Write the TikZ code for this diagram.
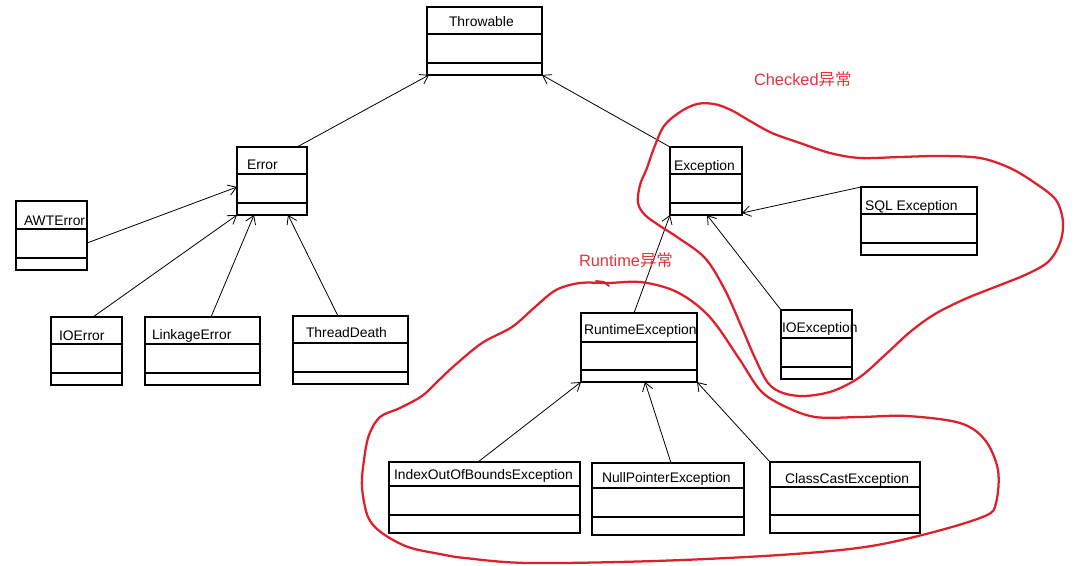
\documentclass[tikz,border=0pt]{standalone}
\usepackage{fontspec}
\setmainfont{Liberation Sans}
\newfontfamily\cjk{Noto Sans CJK SC}
\usetikzlibrary{arrows.meta,fit}
\definecolor{penred}{RGB}{222,32,44}
\definecolor{txtred}{RGB}{226,52,62}
\tikzset{
  cls/.style={draw=black, line width=0.85pt, inner sep=0pt, outer sep=0pt},
  clsline/.style={draw=black, line width=0.85pt},
  lbl/.style={inner sep=0pt, outer sep=0pt, anchor=base west, font=\fontsize{10.4pt}{12pt}\selectfont},
  redlbl/.style={inner sep=0pt, outer sep=0pt, anchor=base west, text=txtred, font=\fontsize{12.3pt}{14pt}\selectfont},
  arr/.style={line width=0.6pt, -{Straight Barb[length=6pt,width=8pt,line width=0.6pt]}},
  redpen/.style={draw=penred, line width=1.7pt, line cap=round, line join=round},
}
\newcommand\umlclass[7]{%
  \node[cls, fit={(#2,#3)(#4,#5)}] (#1) {};
  \draw[clsline] (#1.west |- 0,#6) -- (#1.east |- 0,#6);
  \draw[clsline] (#1.west |- 0,#7) -- (#1.east |- 0,#7);
}
\begin{document}
\begin{tikzpicture}[x=0.75pt,y=-0.75pt]
\useasboundingbox[fill=white] (0,0) rectangle (1076,565);

% classes
\umlclass{thr}{427}{7}{542}{75}{34}{63}
\umlclass{err}{237}{147}{307}{215}{174}{203}
\umlclass{awt}{16}{201}{87}{270}{229}{258}
\umlclass{ioerr}{51}{317}{122}{385}{344}{373}
\umlclass{link}{145}{317}{260}{385}{344}{373}
\umlclass{td}{293}{316}{408}{384}{343}{372}
\umlclass{exc}{670}{147}{742}{215}{174}{203}
\umlclass{sql}{861}{187}{977}{255}{214}{243}
\umlclass{ioexc}{781}{310}{852}{379}{338}{367}
\umlclass{rte}{581}{313}{697}{382}{342}{370}
\umlclass{idx}{389}{462}{580}{533}{486}{515}
\umlclass{npe}{592}{463}{744}{535}{488}{517}
\umlclass{cce}{770}{462}{920}{533}{487}{515}

% labels
\node[lbl] (thr-t) at (449,26.5) {Throwable};
\node[lbl] (err-t) at (247,169) {Error};
\node[lbl] (awt-t) at (24,225) {AWTError};
\node[lbl] (ioerr-t) at (59,340) {IOError};
\node[lbl] (link-t) at (152,339) {LinkageError};
\node[lbl] (td-t) at (306,337) {ThreadDeath};
\node[lbl] (exc-t) at (674,170) {Exception};
\node[lbl] (sql-t) at (865,210) {SQL Exception};
\node[lbl] (ioexc-t) at (782,332) {IOException};
\node[lbl] (rte-t) at (584,334) {RuntimeException};
\node[lbl] (idx-t) at (394,479) {IndexOutOfBoundsException};
\node[lbl] (npe-t) at (602,482) {NullPointerException};
\node[lbl] (cce-t) at (785,483) {ClassCastException};

% connectors
\draw[arr] (err.north -| 297,0) -- (thr.south -| 429,0);
\draw[arr] (exc.north west) -- (thr.south east);
\draw[arr] (awt.east |- 0,243) -- (err.west |- 0,187);
\draw[arr] (ioerr.north -| 93,0) -- (err.south west);
\draw[arr] (link.north -| 211,0) -- (err.south -| 254,0);
\draw[arr] (td.north -| 338,0) -- (err.south -| 288,0);
\draw[arr] (sql.north west) -- (exc.east |- 0,213);
\draw[arr] (ioexc.north west) -- (exc.south -| 707,0);
\draw[arr] (rte.north -| 634,0) -- (exc.south west);
\draw[arr] (idx.north -| 478,0) -- (rte.south west);
\draw[arr] (npe.north -| 671,0) -- (rte.south -| 645,0);
\draw[arr] (cce.north west) -- (rte.south east);

% red hand-drawn regions
\draw[redpen] plot[smooth cycle, tension=0.55] coordinates {
 (697,104) (714,104) (731,110) (750,121) (772,133) (800,143) (830,153) (860,158) (900,157)
 (940,156) (980,158) (1010,168) (1035,183) (1056,200) (1063,222) (1060,243)
 (1048,262) (1025,275) (995,287) (965,299) (935,314) (910,332) (885,355)
 (860,377) (833,391) (805,396) (783,393) (768,383) (755,358) (742,328)
 (725,290) (705,258) (677,237) (660,226) (645,215) (638,203) (640,185) (647,168)
 (654,148) (664,126) (680,112)};
\draw[redpen] plot[smooth cycle, tension=0.55] coordinates {
 (608,283) (640,282) (670,289) (693,302) (714,322) (740,360) (760,390)
 (782,405) (815,417) (860,417) (907,416) (960,423) (985,440) (998,470)
 (996,503) (985,516) (930,533) (865,547) (780,555) (655,561) (528,563)
 (465,558) (440,554) (408,547) (382,533) (368,517) (362,487) (364,460)
 (369,435) (380,417) (400,408) (422,396) (437,382) (454,366) (482,343)
 (512,327) (535,307) (556,290) (580,283)};
\draw[redpen, line width=1.4pt] (596,281) -- (604,282) -- (609,286);

\node[redlbl] (checked) at (754,85) {Checked{\cjk 异常}};
\node[redlbl] (runtime) at (579,266) {Runtime{\cjk 异常}};
\end{tikzpicture}
\end{document}
